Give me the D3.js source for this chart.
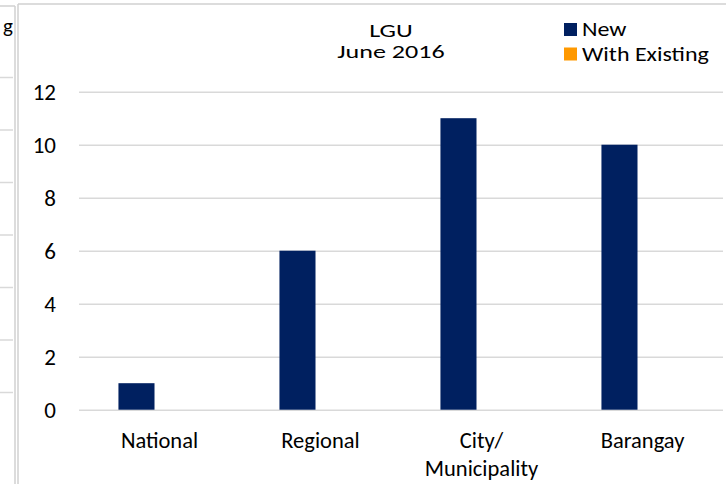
<!DOCTYPE html>
<html>
<head>
<meta charset="utf-8">
<script src="https://cdn.jsdelivr.net/npm/d3@7"></script>
<style>
  body { margin: 0; background: #fff; }
  svg text { font-family: Calibri, Carlito, Lato, sans-serif; fill: #000; }
</style>
</head>
<body>
<svg id="chart" width="726" height="484"></svg>
<script>
// chart data
var categories = ['National', 'Regional', 'City/\nMunicipality', 'Barangay'];
var series = ['New', 'With Existing'];
var newVals = [1, 6, 11, 10];
var existingVals = [0, 0, 0, 0];
var yTicks = [0, 2, 4, 6, 8, 10, 12];
var titleLines = ['LGU', 'June 2016'];
var colors = ['#002060', '#FF9900'];

var svg = d3.select('#chart');
var axisFont = 22.5, tickFont = 23, titleFont = 18, legendFont = 20;

// neighbouring chart peeking in on the left
var leftY = d3.scaleLinear().domain([0, 12]).range([392, 77]);
svg.append('g')
    .selectAll('line')
    .data(yTicks)
    .enter()
    .append('line')
    .attr('x1', 0).attr('x2', 13)
    .attr('y1', function(d) { return leftY(d) + 0.5; })
    .attr('y2', function(d) { return leftY(d) + 0.5; })
    .style('stroke', '#d9d9d9')
    .style('stroke-width', 1.5);
svg.append('line')
    .attr('x1', 15).attr('x2', 15).attr('y1', 6).attr('y2', 484)
    .style('stroke', '#d0d0d0').style('stroke-width', 1.5);
svg.append('line')
    .attr('x1', 0).attr('x2', 15).attr('y1', 6).attr('y2', 6)
    .style('stroke', '#d0d0d0').style('stroke-width', 1.5);
svg.append('text')
    .attr('x', 13).attr('y', 33)
    .attr('text-anchor', 'end')
    .style('font-size', '21px')
    .text('g');

// frame of the main chart
svg.append('line')
    .attr('x1', 18).attr('x2', 18).attr('y1', 4).attr('y2', 484)
    .style('stroke', '#d0d0d0').style('stroke-width', 1.5);
svg.append('line')
    .attr('x1', 18).attr('x2', 726).attr('y1', 4).attr('y2', 4)
    .style('stroke', '#d0d0d0').style('stroke-width', 1.5);

var plot = {left: 79, right: 723, top: 91.7, bottom: 409.7};

var y = d3.scaleLinear().domain([0, 12]).range([plot.bottom, plot.top]);
var x0 = d3.scaleBand()
    .domain(categories)
    .range([plot.left, plot.right])
    .paddingInner(0.49)
    .paddingOuter(0.245);
var x1 = d3.scaleBand()
    .domain(series)
    .range([0, x0.bandwidth()])
    .paddingInner(0.217);

// gridlines
svg.append('g')
    .attr('transform', 'translate(' + plot.left + ',0)')
    .call(d3.axisLeft(y).tickValues(yTicks).tickSize(-(plot.right - plot.left)).tickFormat(''))
    .call(function(g) { g.select('.domain').remove(); })
    .selectAll('line')
    .style('stroke', '#d9d9d9')
    .style('stroke-width', 1.5);

// y tick labels
var yAxis = svg.append('g')
    .attr('transform', 'translate(56,0)')
    .call(d3.axisLeft(y).tickValues(yTicks).tickSize(0).tickPadding(0));
yAxis.select('.domain').remove();
yAxis.selectAll('text')
    .style('font-size', tickFont + 'px')
    .style('font-family', null)
    .attr('fill', '#000');

// bars
var rows = categories.map(function(c, i) {
    return {cat: c, vals: [newVals[i], existingVals[i]]};
});
svg.append('g')
    .selectAll('g')
    .data(rows)
    .enter()
    .append('g')
    .attr('transform', function(d) { return 'translate(' + x0(d.cat) + ',0)'; })
    .selectAll('rect')
    .data(function(d) { return d.vals.map(function(v, j) { return {s: series[j], v: v, c: colors[j]}; }); })
    .enter()
    .append('rect')
    .attr('x', function(d) { return x1(d.s); })
    .attr('width', x1.bandwidth())
    .attr('y', function(d) { return y(d.v); })
    .attr('height', function(d) { return y(0) - y(d.v); })
    .style('fill', function(d) { return d.c; });

// x axis labels
var xAxis = svg.append('g')
    .attr('transform', 'translate(0,' + plot.bottom + ')')
    .call(d3.axisBottom(x0).tickSize(0).tickFormat(''));
xAxis.select('.domain').remove();
xAxis.selectAll('.tick')
    .each(function(d) {
        var lines = d.split('\n');
        var t = d3.select(this).append('text')
            .attr('text-anchor', 'middle')
            .style('font-size', axisFont + 'px')
            .attr('fill', '#000');
        lines.forEach(function(l, k) {
            t.append('tspan').attr('x', 0).attr('y', 38 + k * 28).text(l);
        });
    });

// title (text in the reference is stretched sideways)
svg.append('g')
    .selectAll('text')
    .data(titleLines)
    .enter()
    .append('text')
    .attr('transform', function(d, i) { return 'translate(391,' + (36.5 + i * 21.5) + ') scale(1.45,1)'; })
    .attr('text-anchor', 'middle')
    .style('font-size', titleFont + 'px')
    .text(function(d) { return d; });

// legend
var legend = svg.append('g')
    .selectAll('g')
    .data(series)
    .enter()
    .append('g')
    .attr('transform', function(d, i) { return 'translate(564,' + (23 + i * 24.5) + ')'; });
legend.append('rect')
    .attr('width', 13).attr('height', 13)
    .style('fill', function(d, i) { return colors[i]; });
legend.append('text')
    .attr('transform', 'translate(18,13) scale(1.2,1)')
    .style('font-size', legendFont + 'px')
    .text(function(d) { return d; });
</script>
</body>
</html>
